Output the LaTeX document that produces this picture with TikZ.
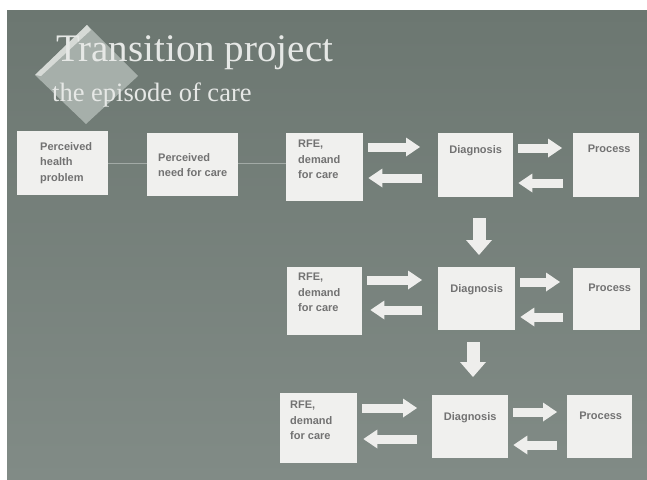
\documentclass[tikz,border=0pt]{standalone}
\usepackage{fontspec}
\setmainfont{Liberation Serif}
\newfontfamily\boxfont{Liberation Sans}
\usetikzlibrary{arrows.meta}
\definecolor{bgtop}{HTML}{6C7771}
\definecolor{bgbot}{HTML}{818B86}
\definecolor{boxc}{HTML}{F0F0EE}
\definecolor{txtc}{HTML}{727272}
\definecolor{arrc}{HTML}{EEEEEC}
\definecolor{titlec}{HTML}{E6E8E6}
\definecolor{diamc}{HTML}{A6AFAA}
\definecolor{diamhi}{HTML}{D6DAD6}
\definecolor{linec}{HTML}{A2AAA6}
\begin{document}
\begin{tikzpicture}[x=1pt,y=-1pt,
  box/.style={fill=boxc, draw=none, inner sep=0pt, anchor=north west},
  txt/.style={font=\boxfont\bfseries\fontsize{11}{15.5}\selectfont, text=txtc, inner sep=0pt, align=left},
  hfat/.style={draw=arrc, line width=9pt, -{Triangle[width=19pt,length=14pt,line width=0pt]}},
  vfat/.style={draw=arrc, line width=13pt, -{Triangle[width=26pt,length=15pt,line width=0pt]}},
  thinline/.style={draw=linec, line width=1pt}]
\useasboundingbox (0,0) rectangle (647,479);
\fill[white] (0,0) rectangle (647,479);
\shade[top color=bgtop, bottom color=bgbot] (7,10) rectangle (647,479);
% diamond
\fill[diamc] (87,25) -- (138,76) -- (86,124) -- (35,75) -- cycle;
\fill[diamhi] (87,25) -- (91,30) -- (41,76) -- (35,75) -- cycle;
% title
\node[anchor=base west, inner sep=0pt, text=titlec, font=\fontsize{39}{41}\selectfont] (t1) at (56,61) {Transition project};
\node[anchor=base west, inner sep=0pt, text=titlec, font=\fontsize{26.5}{28}\selectfont] (t2) at (52,101) {the episode of care};
% row 1 boxes
\node[box, minimum width=91pt, minimum height=64pt] (b1) at (17,131) {};
\node[box, minimum width=91pt, minimum height=63pt] (b2) at (147,133) {};
\node[box, minimum width=77pt, minimum height=68pt] (r1) at (286,133) {};
\node[box, minimum width=75pt, minimum height=64pt] (d1) at (438,133) {};
\node[box, minimum width=66pt, minimum height=64pt] (p1) at (573,133) {};
% row 2 boxes
\node[box, minimum width=75pt, minimum height=68pt] (r2) at (287,267) {};
\node[box, minimum width=77pt, minimum height=63pt] (d2) at (438,267) {};
\node[box, minimum width=67pt, minimum height=62pt] (p2) at (573,268) {};
% row 3 boxes
\node[box, minimum width=77pt, minimum height=70pt] (r3) at (280,393) {};
\node[box, minimum width=76pt, minimum height=63pt] (d3) at (432,395) {};
\node[box, minimum width=65pt, minimum height=63pt] (p3) at (567,395) {};
% texts
\node[txt, anchor=north west] (tb1) at ([shift={(23,11)}]b1.north west) {Perceived\\health\\problem};
\node[txt, anchor=north west] (tb2) at ([shift={(11,20)}]b2.north west) {Perceived\\need for care};
\node[txt, anchor=north west] (tr1) at ([shift={(12,7)}]r1.north west) {RFE,\\demand\\for care};
\node[txt, anchor=north] (td1) at ([shift={(0,12)}]d1.north) {Diagnosis};
\node[txt, anchor=north] (tp1) at ([shift={(3,12)}]p1.north) {Process};
\node[txt, anchor=north west] (tr2) at ([shift={(11,6)}]r2.north west) {RFE,\\demand\\for care};
\node[txt, anchor=north] (td2) at ([shift={(0,17)}]d2.north) {Diagnosis};
\node[txt, anchor=north] (tp2) at ([shift={(3,16)}]p2.north) {Process};
\node[txt, anchor=north west] (tr3) at ([shift={(10,8)}]r3.north west) {RFE,\\demand\\for care};
\node[txt, anchor=north] (td3) at ([shift={(0,17)}]d3.north) {Diagnosis};
\node[txt, anchor=north] (tp3) at ([shift={(1,17)}]p3.north) {Process};
% thin connectors row 1
\draw[thinline] (b1.east |- 0,163) -- (b2.west |- 0,163);
\draw[thinline] (b2.east |- 0,163) -- (r1.west |- 0,163);
% row 1 arrows
\draw[hfat, shorten <=5pt, shorten >=18pt] (r1.east |- 0,147) -- (d1.west |- 0,147);
\draw[hfat, shorten <=16pt, shorten >=5pt] (d1.west |- 0,178) -- (r1.east |- 0,178);
\draw[hfat, shorten <=5pt, shorten >=11pt] (d1.east |- 0,148) -- (p1.west |- 0,148);
\draw[hfat, shorten <=10pt, shorten >=5pt] (p1.west |- 0,183) -- (d1.east |- 0,183);
% row 2 arrows
\draw[hfat, shorten <=5pt, shorten >=16pt] (r2.east |- 0,280) -- (d2.west |- 0,280);
\draw[hfat, shorten <=16pt, shorten >=8pt] (d2.west |- 0,310) -- (r2.east |- 0,310);
\draw[hfat, shorten <=5pt, shorten >=13pt] (d2.east |- 0,282) -- (p2.west |- 0,282);
\draw[hfat, shorten <=10pt, shorten >=5pt] (p2.west |- 0,317) -- (d2.east |- 0,317);
% row 3 arrows
\draw[hfat, shorten <=5pt, shorten >=15pt] (r3.east |- 0,408) -- (d3.west |- 0,408);
\draw[hfat, shorten <=15pt, shorten >=6pt] (d3.west |- 0,439) -- (r3.east |- 0,439);
\draw[hfat, shorten <=5pt, shorten >=10pt] (d3.east |- 0,412) -- (p3.west |- 0,412);
\draw[hfat, shorten <=10pt, shorten >=5pt] (p3.west |- 0,445) -- (d3.east |- 0,445);
% down arrows
\draw[vfat, shorten <=21pt, shorten >=12pt] (d1.south -| 479,0) -- (d2.north -| 479,0);
\draw[vfat, shorten <=12pt, shorten >=18pt] (d2.south -| 473,0) -- (d3.north -| 473,0);
\end{tikzpicture}
\end{document}
